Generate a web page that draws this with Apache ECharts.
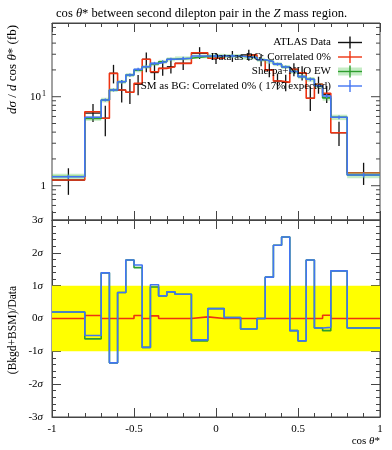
<!DOCTYPE html>
<html><head><meta charset="utf-8">
<script src="https://cdn.jsdelivr.net/npm/echarts@6/dist/echarts.min.js"></script>
<style>html,body{margin:0;padding:0;background:#fff}#c{width:392px;height:450px}</style>
</head><body><div id="c"></div>
<script>
// ---- data ----
const edges = [-1, -0.8, -0.7, -0.65, -0.6, -0.55, -0.5, -0.45, -0.4, -0.35, -0.3, -0.25, -0.15, -0.05, 0.05, 0.15, 0.25, 0.3, 0.35, 0.4, 0.45, 0.5, 0.55, 0.6, 0.65, 0.7, 0.8, 1.0];
const dataVals = [1.16, 6.55, 5.72, 18.3, 11.9, 11.2, 13.8, 26.3, 18.7, 20.8, 21.7, 23.7, 30.8, 27.0, 28.5, 29.5, 26.0, 20.0, 15.0, 14.5, 20.3, 18.5, 9.6, 13.8, 10.6, 3.94, 1.40];
const dataLo = [0.79, 5.2, 3.6, 14.1, 8.6, 8.3, 10.4, 18.8, 15.4, 17.2, 18.2, 20.0, 26.5, 23.3, 24.6, 25.4, 22.0, 16.5, 12.0, 11.5, 17.0, 15.2, 6.9, 10.8, 8.5, 2.79, 1.02];
const dataHi = [1.57, 8.3, 7.9, 22.8, 15.4, 15.8, 17.5, 31.4, 23.7, 24.8, 25.6, 27.6, 36.0, 30.9, 32.6, 33.7, 30.2, 23.7, 18.2, 17.7, 23.8, 22.0, 13.0, 16.8, 13.2, 5.24, 1.81];
const redVals = [1.16, 6.78, 5.72, 18.3, 11.9, 11.2, 14.1, 26.3, 19.1, 20.8, 21.7, 23.7, 31.2, 27.0, 28.5, 29.5, 26.0, 20.0, 15.0, 14.5, 20.3, 18.5, 9.6, 13.8, 10.9, 3.94, 1.40];
const greenVals = [1.27, 5.7, 9.18, 11.9, 14.7, 17.5, 19.8, 21.7, 23.3, 24.7, 26.3, 27.0, 28.4, 28.9, 28.7, 27.6, 26.0, 24.8, 23.2, 21.6, 19.2, 16.8, 15.7, 13.3, 9.7, 5.87, 1.32];
const greenErr = [0.07, 0.06, 0.06, 0.05, 0.05, 0.05, 0.05, 0.05, 0.05, 0.05, 0.05, 0.05, 0.05, 0.05, 0.05, 0.05, 0.05, 0.05, 0.05, 0.05, 0.05, 0.05, 0.06, 0.06, 0.07, 0.07, 0.08];
const blueVals = [1.26, 5.87, 9.18, 11.9, 14.7, 17.5, 20.3, 21.7, 23.7, 24.7, 26.3, 27.0, 28.7, 28.9, 28.7, 27.6, 26.0, 24.8, 23.2, 21.6, 19.2, 16.8, 15.7, 13.3, 10.2, 5.87, 1.32];
const blueErr = [0.05, 0.04, 0.04, 0.04, 0.04, 0.04, 0.04, 0.04, 0.04, 0.04, 0.04, 0.04, 0.04, 0.04, 0.04, 0.04, 0.04, 0.04, 0.04, 0.04, 0.04, 0.04, 0.05, 0.05, 0.05, 0.05, 0.06];
const redSig = [0, 0.09, 0, 0, 0, 0, 0.09, 0, 0.08, 0, 0, 0, 0.05, 0, 0, 0, 0, 0, 0, 0, 0, 0, 0, 0, 0.1, 0, 0];
const greenSig = [0.2, -0.62, 1.39, -1.35, 0.79, 1.78, 1.55, -0.88, 0.96, 0.69, 0.81, 0.74, -0.68, 0.3, 0.03, -0.32, 0.0, 1.26, 2.23, 2.48, -0.37, -0.68, 1.78, -0.29, -0.37, 1.45, -0.29];
const blueSig = [0.2, -0.52, 1.39, -1.35, 0.79, 1.78, 1.63, -0.88, 1.03, 0.69, 0.81, 0.74, -0.65, 0.3, 0.03, -0.32, 0.0, 1.26, 2.23, 2.48, -0.37, -0.68, 1.78, -0.29, -0.27, 1.45, -0.29];
const sigmaBand = [-1, 1];
const logTicks = [0.5, 0.6, 0.7, 0.8, 0.9, 1, 2, 3, 4, 5, 6, 7, 8, 9, 10, 20, 30, 40, 50, 60];
const logMajor = [1, 10];
const legendLabels = ['ATLAS Data', 'Data as BG: Correlated 0%', 'Sherpa+NLO EW', 'SM as BG: Correlated 0% ( 17% expected)'];

// ---- styles ----
const FONT = 'Liberation Serif';
const C_RED = '#EE3311', C_BLUE = '#4275F2', C_GREEN = '#2E9E2E', C_BAND = 'rgba(90,200,90,0.35)', C_AX = '#444';
const X0 = -1, X1 = 1;

function stepData(vals) {
  const d = vals.map((v, i) => [edges[i], v]);
  d.push([edges[edges.length - 1], vals[vals.length - 1]]);
  return d;
}
function stepLine(name, vals, color, xi, yi, z) {
  return { name, type: 'line', step: 'end', xAxisIndex: xi, yAxisIndex: yi, data: stepData(vals),
    showSymbol: false, symbol: 'none', lineStyle: { color, width: 1.6 }, z: z, silent: true, animation: false };
}
const centers = dataVals.map((v, i) => (edges[i] + edges[i + 1]) / 2);

const chart = echarts.init(document.getElementById('c'), null, { renderer: 'canvas' });

const xBase = {
  type: 'value', min: X0, max: X1, interval: 0.5,
  axisLine: { show: true, onZero: false, lineStyle: { color: C_AX, width: 1 } }, splitLine: { show: false },
  axisTick: { show: true, inside: true, length: 9, lineStyle: { color: C_AX } },
  minorTick: { show: true, splitNumber: 5, length: 4, lineStyle: { color: C_AX } },
  axisLabel: { show: false }
};
const sigBase = {
  type: 'value', min: -3, max: 3, interval: 1,
  axisLine: { show: true, onZero: false, lineStyle: { color: C_AX, width: 1 } }, splitLine: { show: false },
  axisTick: { show: true, inside: true, length: 9, lineStyle: { color: C_AX } },
  minorTick: { show: true, splitNumber: 5, length: 4, lineStyle: { color: C_AX } },
  axisLabel: { show: false }
};

const option = {
  animation: false,
  textStyle: { fontFamily: FONT },
  title: {
    left: 51, top: 2,
    text: '{n|cos }{i|θ}{n|* between second dilepton pair in the }{i|Z}{n| mass region.}',
    textStyle: { fontFamily: FONT, fontWeight: 'normal', fontSize: 12.6, color: '#000',
      rich: { n: { fontFamily: FONT, fontSize: 12.6, color: '#000' }, i: { fontFamily: FONT, fontSize: 12.6, fontStyle: 'italic', color: '#000' } } }
  },
  grid: [
    { left: 52, right: 12, top: 23, height: 197, show: true, borderColor: C_AX, borderWidth: 1 },
    { left: 52, right: 12, top: 220, height: 197, show: true, borderColor: C_AX, borderWidth: 1 }
  ],
  xAxis: [
    Object.assign({}, xBase, { gridIndex: 0, position: 'bottom' }),
    Object.assign({}, xBase, { gridIndex: 0, position: 'top' }),
    Object.assign({}, xBase, { gridIndex: 1, position: 'bottom',
      axisLabel: { show: true, margin: 7, fontFamily: FONT, fontSize: 11, color: '#000' } }),
    Object.assign({}, xBase, { gridIndex: 1, position: 'top' })
  ],
  yAxis: [
    { type: 'log', logBase: 10, gridIndex: 0, min: 0.412, max: 67.3, position: 'left',
      axisLine: { show: false, onZero: false }, splitLine: { show: false }, axisTick: { show: false }, minorTick: { show: false },
      axisLabel: { show: true, margin: 6, fontFamily: FONT, fontSize: 11, color: '#000',
        showMinLabel: false, showMaxLabel: false,
        formatter: function (v) {
          if (Math.abs(v - logMajor[1]) < 1e-6) return '10{s|1}';
          if (Math.abs(v - logMajor[0]) < 1e-9) return '1';
          return '';
        },
        rich: { s: { fontSize: 8, fontFamily: FONT, color: '#000', padding: [0, 0, 6, 1] } } } },
    Object.assign({}, sigBase, { gridIndex: 1, position: 'left',
      axisLabel: { show: true, margin: 9, fontFamily: FONT, fontSize: 11, color: '#000',
        formatter: function (v) { return v + '{i|σ}'; },
        rich: { i: { fontStyle: 'italic', fontFamily: FONT, fontSize: 11, color: '#000' } } } }),
    Object.assign({}, sigBase, { gridIndex: 1, position: 'right' })
  ],
  series: [
    // log-axis ticks (major + minor, both sides)
    { type: 'custom', xAxisIndex: 0, yAxisIndex: 0, silent: true, z: 1,
      data: logTicks.map(v => [X0, v, logMajor.indexOf(v) >= 0 ? 1 : 0]),
      encode: { x: 0, y: 1 },
      renderItem: function (params, api) {
        const v = api.value(1);
        const a = api.coord([X0, v]), b = api.coord([X1, v]);
        const len = api.value(2) ? 9 : 4;
        const st = { stroke: C_AX, lineWidth: 1 };
        return { type: 'group', children: [
          { type: 'line', shape: { x1: a[0], y1: a[1], x2: a[0] + len, y2: a[1] }, style: st },
          { type: 'line', shape: { x1: b[0] - len, y1: b[1], x2: b[0], y2: b[1] }, style: st }
        ] };
      } },
    // data points with error bars
    { type: 'custom', xAxisIndex: 0, yAxisIndex: 0, silent: true, z: 2,
      data: dataVals.map((v, i) => [centers[i], v, dataLo[i], dataHi[i], edges[i], edges[i + 1]]),
      encode: { x: 0, y: 1 },
      renderItem: function (params, api) {
        const xc = api.value(0), y = api.value(1);
        const lo = api.coord([xc, api.value(2)]), hi = api.coord([xc, api.value(3)]);
        const pa = api.coord([api.value(4), y]), pb = api.coord([api.value(5), y]);
        const st = { stroke: '#111', lineWidth: 1.3 };
        return { type: 'group', children: [
          { type: 'line', shape: { x1: lo[0], y1: lo[1], x2: hi[0], y2: hi[1] }, style: st },
          { type: 'line', shape: { x1: pa[0], y1: pa[1], x2: pb[0], y2: pb[1] }, style: st }
        ] };
      } },
    stepLine('Data as BG', redVals, C_RED, 0, 0, 3),
    // Sherpa band
    { type: 'custom', xAxisIndex: 0, yAxisIndex: 0, silent: true, z: 4,
      data: greenVals.map((v, i) => [edges[i], v, v * (1 - greenErr[i]), v * (1 + greenErr[i]), edges[i + 1]]),
      encode: { x: 0, y: 1 },
      renderItem: function (params, api) {
        const a = api.coord([api.value(0), api.value(3)]), b = api.coord([api.value(4), api.value(2)]);
        return { type: 'rect', shape: { x: a[0], y: a[1], width: b[0] - a[0], height: b[1] - a[1] }, style: { fill: C_BAND } };
      } },
    stepLine('Sherpa+NLO EW', greenVals, C_GREEN, 0, 0, 5),
    stepLine('SM as BG', blueVals, C_BLUE, 0, 0, 6),
    // blue MC error ticks
    { type: 'custom', xAxisIndex: 0, yAxisIndex: 0, silent: true, z: 7,
      data: blueVals.map((v, i) => [centers[i], v, v * (1 - blueErr[i]), v * (1 + blueErr[i])]),
      encode: { x: 0, y: 1 },
      renderItem: function (params, api) {
        const xc = api.value(0);
        const lo = api.coord([xc, api.value(2)]), hi = api.coord([xc, api.value(3)]);
        return { type: 'line', shape: { x1: lo[0], y1: lo[1], x2: hi[0], y2: hi[1] }, style: { stroke: C_BLUE, lineWidth: 1.3 } };
      } },
    // ratio panel
    Object.assign(stepLine('Data as BG r', redSig, C_RED, 2, 1, 3), {
      markArea: { silent: true, itemStyle: { color: '#ffff00', opacity: 1 },
        data: [[{ yAxis: sigmaBand[0] }, { yAxis: sigmaBand[1] }]] } }),
    stepLine('Sherpa r', greenSig, C_GREEN, 2, 1, 4),
    stepLine('SM r', blueSig, C_BLUE, 2, 1, 5)
  ],
  graphic: []
};

// legend (text right aligned, sample to the right)
const legY = [42.5, 57, 71.5, 86];
const legCol = ['#111', C_RED, C_GREEN, C_BLUE];
legendLabels.forEach((t, i) => {
  const y = legY[i];
  option.graphic.push({ type: 'text', x: 331, y: y, z: 100,
    style: { text: t, align: 'right', verticalAlign: 'middle', font: '11px "' + FONT + '"', fill: '#000' } });
  if (i === 2) option.graphic.push({ type: 'rect', z: 100, shape: { x: 338, y: y - 4, width: 24, height: 8 }, style: { fill: C_BAND } });
  option.graphic.push({ type: 'line', z: 100, shape: { x1: 338, y1: y, x2: 362, y2: y }, style: { stroke: legCol[i], lineWidth: 1.4 } });
  option.graphic.push({ type: 'line', z: 100, shape: { x1: 350, y1: y - 6, x2: 350, y2: y + 6 }, style: { stroke: legCol[i], lineWidth: 1.4 } });
});
// axis titles
option.graphic.push({ type: 'text', x: 13, y: 25, rotation: Math.PI / 2, z: 100,
  style: { text: '{i|dσ} / {i|d} cos {i|θ}* (fb)', align: 'right', verticalAlign: 'middle', font: '13px "' + FONT + '"', fill: '#000',
    rich: { i: { fontStyle: 'italic', fontFamily: FONT, fontSize: 13 } } } });
option.graphic.push({ type: 'text', x: 13, y: 330, rotation: Math.PI / 2, z: 100,
  style: { text: '(Bkgd+BSM)/Data', align: 'center', verticalAlign: 'middle', font: '11.5px "' + FONT + '"', fill: '#000' } });
option.graphic.push({ type: 'text', x: 380, y: 441, z: 100,
  style: { text: 'cos {i|θ}*', align: 'right', verticalAlign: 'middle', font: '11px "' + FONT + '"', fill: '#000',
    rich: { i: { fontStyle: 'italic', fontFamily: FONT, fontSize: 11 } } } });

chart.setOption(option);
</script></body></html>
